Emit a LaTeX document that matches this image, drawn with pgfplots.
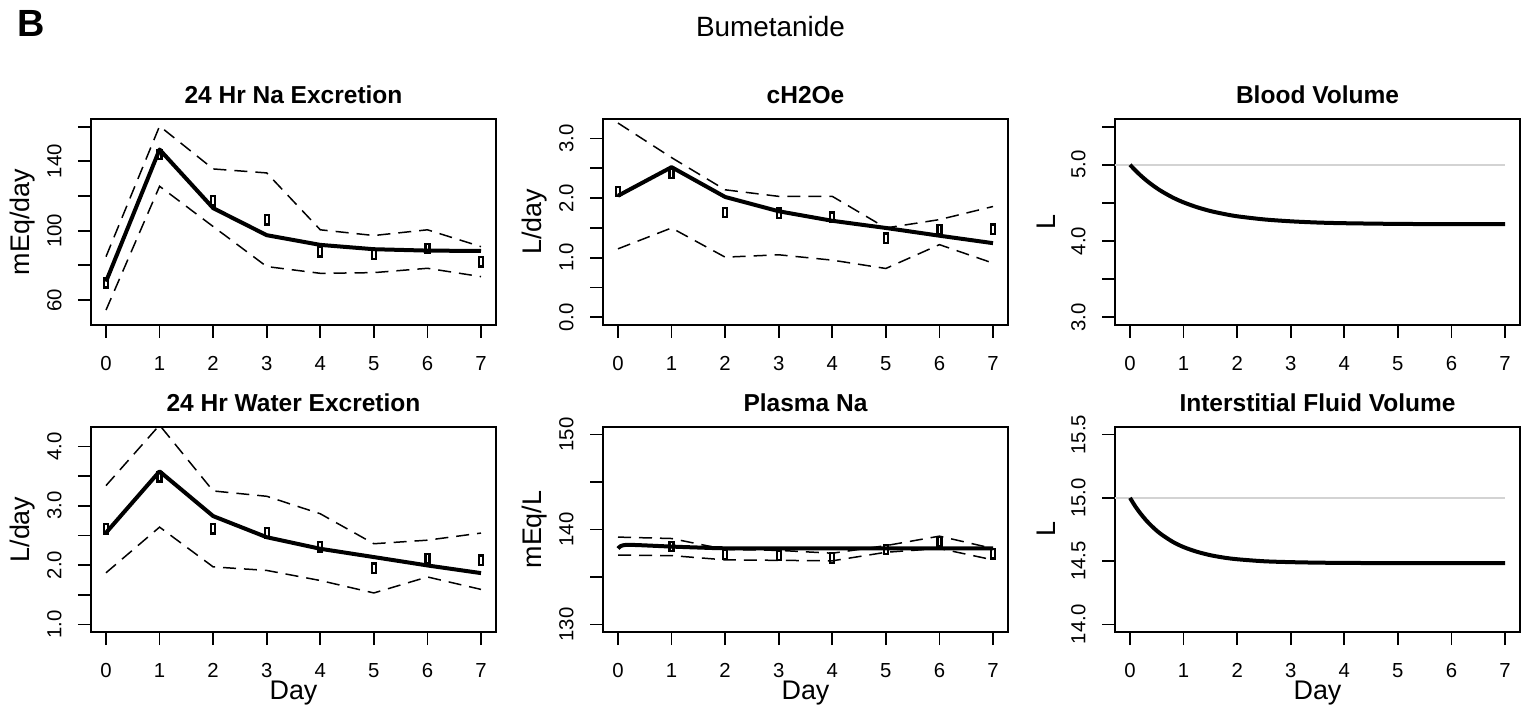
\documentclass[border=0pt]{standalone}
\usepackage{fontspec}
\setmainfont{Liberation Sans}
\usepackage{pgfplots}
\pgfplotsset{compat=1.18}
\definecolor{lgray}{RGB}{211,211,211}
\pgfdeclareplotmark{nrect}{\pgfpathrectangle{\pgfpoint{-1.0bp}{-2.35bp}}{\pgfpoint{2.0bp}{4.7bp}}\pgfusepathqstroke}
\pgfplotsset{
 rplot/.style={
   scale only axis, width=202.5bp, height=103bp,
   anchor=south west,
   xmin=-0.28, xmax=7.28,
   xtick={0,1,2,3,4,5,6,7}, xticklabels={0,1,2,3,4,5,6,7},
   tick align=outside, major tick length=6.5bp,
   axis line style={line width=0.9bp},
   every tick/.style={black, line width=0.9bp},
   xtick pos=bottom, ytick pos=left,
   tick label style={font=\fontsize{10.2}{11}\selectfont},
   xticklabel style={anchor=north, inner sep=0pt, yshift=-9bp},
   yticklabel style={xshift=-8bp, rotate=90, anchor=south, inner sep=0pt},
   title style={at={(axis description cs:0.5,1)}, anchor=base, yshift=1.9bp, font=\fontsize{12.3}{14}\selectfont\bfseries},
   every axis y label/.style={at={(axis description cs:-0.17,0.5)}, rotate=90, anchor=center, font=\fontsize{13.5}{15}\selectfont},
   every axis x label/.style={at={(axis description cs:0.5,-0.30)}, anchor=center, font=\fontsize{13.5}{15}\selectfont},
   /pgf/number format/assume math mode=true,
 },
 sol/.style={black, line width=2bp, no marks, line join=round},
 dsh/.style={black, line width=0.75bp, dash pattern=on 6.5bp off 4bp, no marks},
 pts/.style={black, only marks, mark=nrect, mark options={line width=1.15bp, solid}},
}
\begin{document}
\begin{tikzpicture}
\path[use as bounding box] (0bp,0bp) rectangle (762bp,355.5bp);
\node[anchor=base west, inner sep=0pt, font=\fontsize{19}{20}\selectfont\bfseries] at (8.5bp,337bp) {B};
\node[anchor=base, inner sep=0pt, font=\fontsize{14}{16}\selectfont] at (385.25bp,337bp) {Bumetanide};

% Panel 1
\begin{axis}[rplot, at={(45.5bp,193bp)}, ymin=45.6, ymax=164.4,
  ytick={60,80,100,120,140,160}, yticklabels={60,{},100,{},140,{}},
  title={24 Hr Na Excretion}, ylabel={mEq/day}]
\addplot[dsh] coordinates {(0,85)(1,160.3)(2,135.6)(3,133.3)(4,100.5)(5,97.2)(6,100.5)(7,90.8)};
\addplot[dsh] coordinates {(0,54.2)(1,125.6)(2,102.4)(3,79.3)(4,75.4)(5,75.8)(6,78.3)(7,73.5)};
\addplot[sol] coordinates {(0,70.6)(1,146.8)(2,113)(3,97.4)(4,91.8)(5,89.3)(6,88.5)(7,88.3)};
\addplot[pts] coordinates {(0,70)(1,143.9)(2,117.3)(3,106.3)(4,87.8)(5,86.4)(6,89.7)(7,82)};
\end{axis}

% Panel 2
\begin{axis}[rplot, at={(301.5bp,193bp)}, ymin=-0.128, ymax=3.328,
  ytick={0,0.5,1,1.5,2,2.5,3}, yticklabels={0.0,{},1.0,{},2.0,{},3.0},
  title={cH2Oe}, ylabel={L/day}]
\addplot[dsh] coordinates {(0,3.26)(1,2.68)(2,2.14)(3,2.03)(4,2.03)(5,1.50)(6,1.64)(7,1.86)};
\addplot[dsh] coordinates {(0,1.15)(1,1.50)(2,1.01)(3,1.05)(4,0.96)(5,0.82)(6,1.22)(7,0.91)};
\addplot[sol] coordinates {(0,2.04)(1,2.52)(2,2.02)(3,1.78)(4,1.62)(5,1.50)(6,1.37)(7,1.245)};
\addplot[pts] coordinates {(0,2.11)(1,2.42)(2,1.76)(3,1.75)(4,1.68)(5,1.33)(6,1.47)(7,1.48)};
\end{axis}

% Panel 3
\begin{axis}[rplot, at={(557.5bp,193bp)}, ymin=2.9, ymax=5.6,
  ytick={3,3.5,4,4.5,5,5.5}, yticklabels={3.0,{},4.0,{},5.0,{}},
  title={Blood Volume}, ylabel={L}]
\addplot[lgray, line width=1bp, no marks] coordinates {(-1,5)(7,5)};
\addplot[sol, smooth] coordinates {(0,5.000)(0.1,4.926)(0.2,4.859)(0.3,4.798)(0.4,4.743)(0.5,4.693)(0.6,4.648)(0.8,4.570)(1.0,4.507)(1.25,4.444)(1.5,4.394)(1.75,4.356)(2,4.325)(2.5,4.284)(3,4.259)(3.5,4.243)(4,4.234)(5,4.225)(6,4.222)(7,4.221)};
\end{axis}

% Panel 4
\begin{axis}[rplot, at={(45.5bp,39.5bp)}, height=102.5bp, ymin=0.872, ymax=4.328,
  ytick={1,1.5,2,2.5,3,3.5,4}, yticklabels={1.0,{},2.0,{},3.0,{},4.0},
  title={24 Hr Water Excretion}, ylabel={L/day}, xlabel={Day}]
\addplot[dsh] coordinates {(0,3.34)(1,4.36)(2,3.25)(3,3.16)(4,2.865)(5,2.36)(6,2.42)(7,2.54)};
\addplot[dsh] coordinates {(0,1.87)(1,2.64)(2,1.97)(3,1.91)(4,1.74)(5,1.53)(6,1.80)(7,1.59)};
\addplot[sol] coordinates {(0,2.545)(1,3.58)(2,2.826)(3,2.47)(4,2.275)(5,2.135)(6,1.994)(7,1.865)};
\addplot[pts] coordinates {(0,2.61)(1,3.49)(2,2.61)(3,2.545)(4,2.31)(5,1.95)(6,2.11)(7,2.08)};
\end{axis}

% Panel 5
\begin{axis}[rplot, at={(301.5bp,39.5bp)}, height=102.5bp, ymin=129.2, ymax=150.8,
  ytick={130,135,140,145,150}, yticklabels={130,{},140,{},150},
  title={Plasma Na}, ylabel={mEq/L}, xlabel={Day}]
\addplot[dsh] coordinates {(0,139.2)(1,139.05)(2,137.9)(3,137.8)(4,137.5)(5,138.3)(6,139.3)(7,138.0)};
\addplot[dsh] coordinates {(0,137.3)(1,137.25)(2,136.8)(3,136.75)(4,136.7)(5,137.6)(6,138.0)(7,136.8)};
\addplot[sol, smooth] coordinates {(0,138.0)(0.05,138.25)(0.15,138.38)(0.4,138.35)(1,138.2)(1.5,138.1)(2,138.02)(3,138.0)(7,138.0)};
\addplot[pts] coordinates {(1,138.2)(2,137.4)(3,137.25)(4,137.0)(5,137.9)(6,138.75)(7,137.45)};
\end{axis}

% Panel 6
\begin{axis}[rplot, at={(557.5bp,39.5bp)}, height=102.5bp, ymin=13.94, ymax=15.56,
  ytick={14,14.5,15,15.5}, yticklabels={14.0,14.5,15.0,15.5},
  title={Interstitial Fluid Volume}, ylabel={L}, xlabel={Day}]
\addplot[lgray, line width=1bp, no marks] coordinates {(-1,15)(7,15)};
\addplot[sol, smooth] coordinates {(0,15.000)(0.1,14.932)(0.2,14.874)(0.3,14.823)(0.4,14.779)(0.5,14.740)(0.6,14.707)(0.8,14.652)(1.0,14.611)(1.25,14.574)(1.5,14.547)(1.75,14.528)(2,14.515)(2.5,14.499)(3,14.492)(3.5,14.488)(4,14.486)(5,14.484)(6,14.484)(7,14.484)};
\end{axis}
\end{tikzpicture}
\end{document}
